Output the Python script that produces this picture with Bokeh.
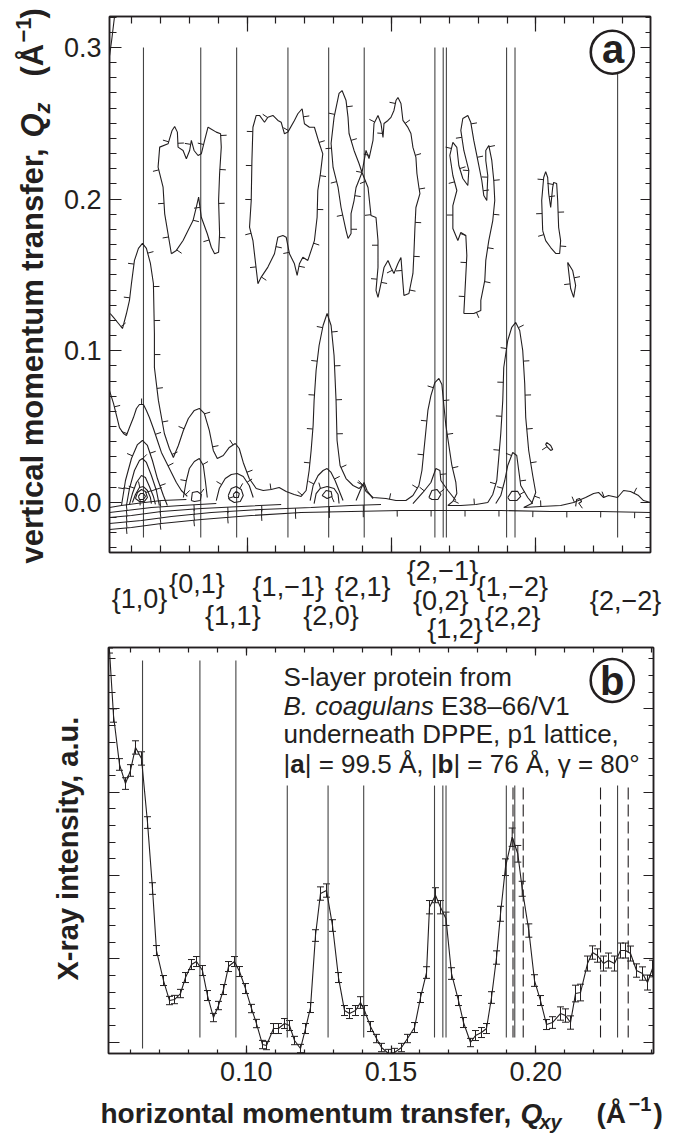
import math
from bokeh.plotting import figure
from bokeh.models import (ColumnDataSource, Range1d, FixedTicker, LinearAxis, Label, LabelSet,
                          Whisker, TeeHead, NumeralTickFormatter)
from bokeh.layouts import column, row
from bokeh.embed import file_html
from bokeh.resources import INLINE
from bokeh.core.properties import value

FONT = "Liberation Sans"
INK = "#231f20"
LINE = "#444444"

# ----------------------------------------------------------------- data
miller_labels = ["{1,0}", "{0,1}", "{1,1}", "{1,\u22121}", "{2,0}", "{2,1}",
                 "{2,\u22121}", "{0,2}", "{1,2}", "{1,\u22122}", "{2,2}", "{2,\u22122}"]
miller_q = [0.06412, 0.08395, 0.09638, 0.11414, 0.12824, 0.14055,
            0.16502, 0.16790, 0.16900, 0.18984, 0.19276, 0.22828]
dashed_q = [0.19215, 0.19568, 0.22239, 0.23196]

qxy = [0.05270, 0.05409, 0.05616, 0.05823, 0.05996, 0.06169, 0.06376, 0.06584, 0.06756, 0.06894,
       0.07137, 0.07344, 0.07517, 0.07724, 0.07897, 0.08104, 0.08277, 0.08484, 0.08657, 0.08864,
       0.09037, 0.09210, 0.09383, 0.09590, 0.09763, 0.09970, 0.10178, 0.10350, 0.10558, 0.10696,
       0.10938, 0.11110, 0.11318, 0.11491, 0.11664, 0.11871, 0.12044, 0.12217, 0.12389, 0.12562,
       0.12770, 0.12977, 0.13184, 0.13392, 0.13564, 0.13772, 0.13945, 0.14083, 0.14290, 0.14497,
       0.14670, 0.14912, 0.15120, 0.15361, 0.15569, 0.15811, 0.16018, 0.16226, 0.16329, 0.16536,
       0.16709, 0.16899, 0.17090, 0.17331, 0.17504, 0.17746, 0.17919, 0.18126, 0.18299, 0.18472,
       0.18645, 0.18783, 0.18955, 0.19187, 0.19381, 0.19533, 0.19761, 0.19958, 0.20165, 0.20372,
       0.20580, 0.20856, 0.21029, 0.21202, 0.21375, 0.21548, 0.21789, 0.21962, 0.22135, 0.22342,
       0.22515, 0.22722, 0.22930, 0.23103, 0.23276, 0.23483, 0.23690, 0.23863, 0.24036]
intensity = [5.700, 4.920, 4.333, 4.104, 4.261, 4.537, 4.405, 3.636, 2.844, 2.100,
             1.740, 1.500, 1.512, 1.584, 1.776, 1.932, 1.968, 1.860, 1.560, 1.296,
             1.440, 1.632, 1.908, 1.968, 1.848, 1.644, 1.404, 1.224, 0.972, 0.960,
             1.164, 1.164, 1.224, 1.200, 1.020, 0.924, 1.164, 1.416, 2.280, 2.784,
             2.820, 2.400, 1.776, 1.380, 1.344, 1.380, 1.476, 1.380, 1.188, 1.044,
             0.936, 0.864, 0.876, 0.936, 1.044, 1.176, 1.536, 1.836, 2.620, 2.764,
             2.620, 2.481, 1.824, 1.500, 1.236, 0.996, 1.080, 1.116, 1.164, 1.536,
             2.016, 2.541, 3.100, 3.460, 3.261, 2.841, 2.340, 1.740, 1.500, 1.212,
             1.236, 1.344, 1.320, 1.236, 1.584, 1.596, 1.944, 2.076, 2.040, 1.944,
             1.980, 1.944, 2.100, 2.100, 2.064, 1.860, 1.824, 1.716, 1.884]
intensity_err = [0.03, 0.08, 0.07, 0.07, 0.07, 0.08, 0.08, 0.07, 0.07, 0.06,
                 0.06, 0.05, 0.05, 0.05, 0.06, 0.06, 0.06, 0.06, 0.06, 0.05,
                 0.05, 0.06, 0.06, 0.06, 0.06, 0.06, 0.05, 0.05, 0.05, 0.05,
                 0.06, 0.06, 0.06, 0.06, 0.05, 0.05, 0.06, 0.06, 0.07, 0.08,
                 0.08, 0.07, 0.06, 0.06, 0.06, 0.06, 0.07, 0.06, 0.06, 0.05,
                 0.05, 0.05, 0.05, 0.05, 0.05, 0.06, 0.06, 0.07, 0.08, 0.09,
                 0.08, 0.08, 0.07, 0.06, 0.06, 0.05, 0.06, 0.06, 0.06, 0.07,
                 0.08, 0.09, 0.10, 0.11, 0.10, 0.09, 0.08, 0.07, 0.06, 0.06,
                 0.07, 0.08, 0.08, 0.08, 0.10, 0.10, 0.09, 0.08, 0.08, 0.09,
                 0.09, 0.09, 0.09, 0.09, 0.09, 0.08, 0.08, 0.09, 0.10]

# panel a contour traces: (Qxy, Qz) in 1/Å
contour_qxy = [
    [0.0524, 0.0531, 0.0541],
    [0.07378, 0.07147, 0.07091, 0.06918, 0.06974, 0.07264, 0.07403, 0.07492, 0.07586, 0.07610, 0.07783, 0.07897, 0.08011, 0.08070, 0.08163, 0.08301, 0.08415, 0.08529, 0.08647, 0.08737, 0.08933, 0.09082, 0.09106, 0.09048, 0.09013, 0.09048, 0.09013, 0.08875, 0.08761, 0.08622, 0.08415, 0.08322, 0.08242, 0.08128, 0.07955, 0.07783, 0.07551, 0.07378],
    [0.10375, 0.10202, 0.10084, 0.10143, 0.10167, 0.10202, 0.10316, 0.10430, 0.10603, 0.10720, 0.10893, 0.11066, 0.11180, 0.11294, 0.11411, 0.11639, 0.11757, 0.11906, 0.11985, 0.12158, 0.12331, 0.12504, 0.12621, 0.12538, 0.12448, 0.12424, 0.12331, 0.12103, 0.11930, 0.11812, 0.11733, 0.11639, 0.11467, 0.11353, 0.11239, 0.11066, 0.10948, 0.10720, 0.10489, 0.10375],
    [0.13288, 0.13426, 0.13495, 0.13530, 0.13703, 0.13875, 0.13979, 0.14117, 0.14221, 0.14359, 0.14394, 0.14532, 0.14636, 0.14705, 0.14740, 0.14878, 0.14981, 0.15085, 0.15154, 0.15223, 0.15327, 0.15396, 0.15569, 0.15672, 0.15742, 0.15845, 0.15880, 0.15949, 0.15984, 0.15845, 0.15811, 0.15776, 0.15742, 0.15603, 0.15430, 0.15396, 0.15327, 0.15223, 0.15085, 0.14981, 0.14878, 0.14740, 0.14636, 0.14532, 0.14463, 0.14532, 0.14532, 0.14463, 0.14290, 0.14187, 0.13979, 0.13772, 0.13703, 0.13599, 0.13599, 0.13495, 0.13426, 0.13253, 0.13150, 0.12977, 0.12908, 0.13011, 0.13184, 0.13288],
    [0.17504, 0.17608, 0.17573, 0.17400, 0.17297, 0.17124, 0.17124, 0.17262, 0.17124, 0.17020, 0.17124, 0.17262, 0.17331, 0.17469, 0.17642, 0.17677, 0.17504, 0.17400, 0.17469, 0.17642, 0.17746, 0.17849, 0.17988, 0.18126, 0.18195, 0.18299, 0.18333, 0.18264, 0.18264, 0.18368, 0.18472, 0.18541, 0.18575, 0.18506, 0.18368, 0.18264, 0.18230, 0.18092, 0.18092, 0.17849, 0.17504],
    [0.20234, 0.20200, 0.20269, 0.20338, 0.20407, 0.20442, 0.20511, 0.20580, 0.20614, 0.20718, 0.20753, 0.20787, 0.20856, 0.20822, 0.20684, 0.20511, 0.20338, 0.20234],
    [0.21098, 0.21271, 0.21375, 0.21306, 0.21202, 0.21098],
    [0.20372, 0.20511, 0.20580, 0.20511, 0.20407, 0.20338, 0.20372],
    [0.05260, 0.05374, 0.05547, 0.05685, 0.05823, 0.05927, 0.05996, 0.06100, 0.06238, 0.06376, 0.06514, 0.06653, 0.06756, 0.06791, 0.06791, 0.06929, 0.07136, 0.07309, 0.07447, 0.07620, 0.07793, 0.07966, 0.08173, 0.08346, 0.08519, 0.08691, 0.08830, 0.08968, 0.09175, 0.09383, 0.09590, 0.09728, 0.09866, 0.10074, 0.10316, 0.10558, 0.10834, 0.11110, 0.11353, 0.11629, 0.11871, 0.12044, 0.12148, 0.12217, 0.12286, 0.12320, 0.12389, 0.12493, 0.12631, 0.12770, 0.12908, 0.13011, 0.13080, 0.13115, 0.13219, 0.13426, 0.13668, 0.13875, 0.14014, 0.14117, 0.14359, 0.14808, 0.15154, 0.15499, 0.15742, 0.15949, 0.16053, 0.16122, 0.16191, 0.16260, 0.16364, 0.16502, 0.16640, 0.16744, 0.16813, 0.16882, 0.16986, 0.17090, 0.17228, 0.17262, 0.17124, 0.16951, 0.17400, 0.17919, 0.18333, 0.18506, 0.18645, 0.18714, 0.18783, 0.18852, 0.18886, 0.19024, 0.19162, 0.19301, 0.19439, 0.19543, 0.19612, 0.19647, 0.19750, 0.19889, 0.19993, 0.19854, 0.19578, 0.20165, 0.20856, 0.21306, 0.21720, 0.21997, 0.22169, 0.22342, 0.22515, 0.22826, 0.23034, 0.23276, 0.23552, 0.23725, 0.23967],
    [0.05236, 0.05996, 0.07033, 0.08415, 0.10143, 0.11871, 0.13599, 0.15327, 0.17055, 0.18783, 0.20511, 0.22239, 0.23967],
    [0.05236, 0.06342, 0.07378, 0.08761, 0.10489, 0.12217, 0.13599, 0.14636],
    [0.05236, 0.05996, 0.07033, 0.08415, 0.09798, 0.11180],
    [0.05236, 0.05823, 0.06687, 0.07724, 0.08933],
    [0.05236, 0.05650, 0.06169, 0.07033, 0.07897],
    [0.05236, 0.05374, 0.05477, 0.05581, 0.05720, 0.05823, 0.05927, 0.06065, 0.06169, 0.06272, 0.06411, 0.06514, 0.06618, 0.06756, 0.06895, 0.07033, 0.07206, 0.07378, 0.07551, 0.07724, 0.07931],
    [0.07793, 0.07897, 0.08000, 0.08173, 0.08346, 0.08484, 0.08553, 0.08622],
    [0.08070, 0.08104, 0.08277, 0.08415, 0.08380, 0.08173, 0.08070],
    [0.09348, 0.09452, 0.09625, 0.09798, 0.09867, 0.09763, 0.09555, 0.09383, 0.09348],
    [0.09521, 0.09625, 0.09729, 0.09694, 0.09555, 0.09521],
    [0.08933, 0.09037, 0.09244, 0.09452, 0.09659, 0.09867, 0.10074, 0.10212],
    [0.05651, 0.05789, 0.05996, 0.06204, 0.06376, 0.06549, 0.06722, 0.06895, 0.07102, 0.07240],
    [0.05823, 0.05927, 0.06100, 0.06273, 0.06376, 0.06514, 0.06687, 0.06860, 0.06964],
    [0.05927, 0.06030, 0.06169, 0.06342, 0.06480, 0.06618, 0.06756, 0.06826],
    [0.06030, 0.06134, 0.06273, 0.06411, 0.06549, 0.06653, 0.06687],
    [0.06134, 0.06204, 0.06342, 0.06480, 0.06549, 0.06445, 0.06273, 0.06134],
    [0.06238, 0.06307, 0.06411, 0.06480, 0.06411, 0.06273, 0.06238],
    [0.12320, 0.12389, 0.12527, 0.12770, 0.13011, 0.13150, 0.13184],
    [0.12597, 0.12735, 0.12908, 0.12942, 0.12770, 0.12597],
    [0.12183, 0.12286, 0.12459, 0.12631, 0.12770, 0.12908, 0.13046, 0.13184, 0.13322],
    [0.13772, 0.13945, 0.14048, 0.14152, 0.14359],
    [0.15742, 0.16087, 0.16364, 0.16536, 0.16675, 0.16709, 0.16951, 0.17228],
    [0.16295, 0.16398, 0.16571, 0.16709, 0.16605, 0.16398, 0.16295],
    [0.18610, 0.18783, 0.18921, 0.19025, 0.19197, 0.19336, 0.19405, 0.19474, 0.19716, 0.19889],
    [0.19025, 0.19163, 0.19370, 0.19474, 0.19336, 0.19094, 0.19025],
    [0.21375, 0.21409, 0.21513, 0.21582, 0.21479],
]
contour_qz = [
    [0.2947, 0.3046, 0.3204],
    [0.1640, 0.1903, 0.2079, 0.2211, 0.2343, 0.2365, 0.2453, 0.2479, 0.2442, 0.2343, 0.2321, 0.2266, 0.2321, 0.2387, 0.2321, 0.2288, 0.2299, 0.2387, 0.2475, 0.2464, 0.2442, 0.2431, 0.2343, 0.2167, 0.1991, 0.1772, 0.1650, 0.1640, 0.1683, 0.1772, 0.1881, 0.2013, 0.1947, 0.1859, 0.1793, 0.1727, 0.1662, 0.1640],
    [0.1442, 0.1727, 0.1815, 0.1991, 0.2255, 0.2474, 0.2552, 0.2552, 0.2507, 0.2540, 0.2552, 0.2519, 0.2507, 0.2431, 0.2442, 0.2519, 0.2563, 0.2596, 0.2497, 0.2474, 0.2474, 0.2365, 0.2299, 0.2167, 0.2057, 0.1881, 0.1727, 0.1596, 0.1617, 0.1574, 0.1497, 0.1574, 0.1640, 0.1749, 0.1760, 0.1749, 0.1640, 0.1552, 0.1486, 0.1442],
    [0.2716, 0.2650, 0.2539, 0.2433, 0.2321, 0.2235, 0.2176, 0.2321, 0.2268, 0.2387, 0.2499, 0.2552, 0.2499, 0.2407, 0.2499, 0.2519, 0.2539, 0.2585, 0.2650, 0.2670, 0.2631, 0.2519, 0.2473, 0.2433, 0.2341, 0.2275, 0.2169, 0.2077, 0.2037, 0.1945, 0.1813, 0.1642, 0.1510, 0.1378, 0.1365, 0.1444, 0.1615, 0.1576, 0.1510, 0.1549, 0.1596, 0.1549, 0.1444, 0.1352, 0.1398, 0.1549, 0.1727, 0.1879, 0.1892, 0.2077, 0.2176, 0.2077, 0.1991, 0.1905, 0.1774, 0.1741, 0.1793, 0.1945, 0.2077, 0.2209, 0.2367, 0.2539, 0.2697, 0.2716],
    [0.1246, 0.1629, 0.1760, 0.1780, 0.1727, 0.1807, 0.1958, 0.2057, 0.2156, 0.2288, 0.2374, 0.2341, 0.2222, 0.2136, 0.2090, 0.2189, 0.2321, 0.2453, 0.2532, 0.2552, 0.2505, 0.2387, 0.2255, 0.2123, 0.2024, 0.1991, 0.2156, 0.2255, 0.2321, 0.2354, 0.2255, 0.2123, 0.1991, 0.1859, 0.1727, 0.1596, 0.1464, 0.1332, 0.1266, 0.1246, 0.1246],
    [0.1793, 0.1991, 0.2143, 0.2182, 0.2143, 0.2037, 0.1945, 0.2077, 0.2110, 0.2103, 0.1991, 0.1813, 0.1727, 0.1642, 0.1642, 0.1681, 0.1727, 0.1793],
    [0.1583, 0.1530, 0.1431, 0.1352, 0.1411, 0.1583],
    [0.0396, 0.0376, 0.0350, 0.0343, 0.0363, 0.0383, 0.0396],
    [0.1246, 0.1220, 0.1180, 0.1147, 0.1246, 0.1332, 0.1444, 0.1596, 0.1675, 0.1708, 0.1675, 0.1576, 0.1444, 0.1114, 0.0890, 0.0673, 0.0455, 0.0356, 0.0297, 0.0376, 0.0475, 0.0554, 0.0607, 0.0620, 0.0587, 0.0475, 0.0343, 0.0290, 0.0310, 0.0363, 0.0389, 0.0356, 0.0264, 0.0158, 0.0092, 0.0079, 0.0086, 0.0099, 0.0073, 0.0053, 0.0040, 0.0079, 0.0211, 0.0343, 0.0508, 0.0673, 0.0870, 0.1035, 0.1167, 0.1246, 0.1167, 0.0969, 0.0673, 0.0409, 0.0244, 0.0158, 0.0112, 0.0092, 0.0119, 0.0073, 0.0033, 0.0026, 0.0013, 0.0013, 0.0046, 0.0112, 0.0211, 0.0343, 0.0475, 0.0607, 0.0705, 0.0791, 0.0818, 0.0778, 0.0640, 0.0508, 0.0376, 0.0244, 0.0132, 0.0059, 0.0007, -0.0020, -0.0020, -0.0013, 0.0000, 0.0053, 0.0145, 0.0297, 0.0455, 0.0673, 0.0890, 0.1068, 0.1154, 0.1187, 0.1134, 0.1002, 0.0785, 0.0560, 0.0343, 0.0178, 0.0066, -0.0007, -0.0033, -0.0026, -0.0020, 0.0000, 0.0033, 0.0059, 0.0066, 0.0033, 0.0046, 0.0033, 0.0079, 0.0073, 0.0046, 0.0013, 0.0000],
    [-0.0178, -0.0165, -0.0139, -0.0112, -0.0086, -0.0066, -0.0059, -0.0053, -0.0053, -0.0053, -0.0059, -0.0059, -0.0066],
    [-0.0138, -0.0119, -0.0092, -0.0066, -0.0046, -0.0033, -0.0020, -0.0013],
    [-0.0099, -0.0086, -0.0059, -0.0040, -0.0026, -0.0013],
    [-0.0066, -0.0053, -0.0033, -0.0020, -0.0007],
    [-0.0033, -0.0020, -0.0007, 0.0013, 0.0020],
    [0.0738, 0.0653, 0.0574, 0.0494, 0.0455, 0.0442, 0.0494, 0.0560, 0.0620, 0.0646, 0.0646, 0.0607, 0.0560, 0.0488, 0.0409, 0.0330, 0.0264, 0.0198, 0.0132, 0.0079, 0.0040],
    [0.0033, 0.0145, 0.0224, 0.0270, 0.0290, 0.0244, 0.0145, 0.0033],
    [0.0013, 0.0066, 0.0073, 0.0053, 0.0013, 0.0007, 0.0013],
    [0.0046, 0.0092, 0.0105, 0.0086, 0.0046, 0.0007, 0.0000, 0.0020, 0.0046],
    [0.0053, 0.0073, 0.0059, 0.0033, 0.0033, 0.0053],
    [0.0013, 0.0092, 0.0158, 0.0185, 0.0191, 0.0171, 0.0112, 0.0033],
    [-0.0020, 0.0145, 0.0290, 0.0382, 0.0409, 0.0376, 0.0277, 0.0158, 0.0046, -0.0020],
    [-0.0020, 0.0092, 0.0211, 0.0277, 0.0290, 0.0264, 0.0178, 0.0079, -0.0020],
    [-0.0013, 0.0059, 0.0132, 0.0178, 0.0165, 0.0105, 0.0040, -0.0013],
    [0.0000, 0.0053, 0.0099, 0.0105, 0.0079, 0.0033, -0.0007],
    [0.0026, 0.0066, 0.0086, 0.0073, 0.0033, 0.0007, 0.0007, 0.0026],
    [0.0040, 0.0059, 0.0059, 0.0040, 0.0020, 0.0020, 0.0040],
    [-0.0007, 0.0059, 0.0092, 0.0105, 0.0092, 0.0053, -0.0007],
    [0.0046, 0.0079, 0.0073, 0.0040, 0.0026, 0.0046],
    [0.0013, 0.0112, 0.0178, 0.0211, 0.0224, 0.0198, 0.0145, 0.0079, 0.0013],
    [0.0013, 0.0092, 0.0132, 0.0079, 0.0026],
    [-0.0007, 0.0066, 0.0132, 0.0224, 0.0211, 0.0145, 0.0079, 0.0013],
    [0.0033, 0.0079, 0.0086, 0.0053, 0.0020, 0.0020, 0.0033],
    [-0.0007, 0.0046, 0.0145, 0.0244, 0.0330, 0.0310, 0.0211, 0.0112, 0.0033, -0.0007],
    [0.0033, 0.0073, 0.0073, 0.0040, 0.0013, 0.0013, 0.0033],
    [-0.0026, 0.0020, 0.0026, 0.0007, -0.0007],
]
# side of the downhill hachures for open traces (+1 left of travel, -1 right, 0 none)
open_side = {0: 0, 8: 1, 9: -1, 10: -1, 11: -1, 12: -1, 13: -1}

# ----------------------------------------------------------------- layout (page px)
PAGE_W = 693
FL = 108
A_TOP, A_BOT, A_R = 16, 552, 650
B_TOP, B_BOT, B_R = 647, 1053, 653
TA_W, TB_W = 60, 85
A_H, M_H = 554, 91
B_Y0, B_H = 645, 446
X_Y0, X_H = 1091, 47
XA = (0.05236, 0.23967)
XB = (0.05236, 0.24070)
YA = (-0.03297, 0.32043)
YB = (0.8644, 5.7366)
MID = 0.35

REG = {' ': 278, '(': 333, ')': 333, ',': 278, '-': 333, '.': 278, '/': 278, '=': 584, '|': 260,
       '\u2013': 556, '\u2212': 584, '\u00b0': 400, '\u03b3': 500, '\u00c5': 667, 'B': 667, 'D': 722,
       'E': 667, 'P': 667, 'S': 667, 'V': 667, 'a': 556, 'b': 556, 'c': 500, 'd': 556, 'e': 556,
       'f': 278, 'g': 556, 'h': 556, 'i': 222, 'l': 222, 'm': 833, 'n': 556, 'o': 556, 'p': 556,
       'r': 333, 's': 500, 't': 278, 'u': 556, 'v': 500, 'y': 500}
BOLD = {' ': 278, 'a': 556, 'b': 611}


def text_w(s, size, bold=False):
    tab = BOLD if bold else REG
    return sum(tab.get(c, REG.get(c, 556)) for c in s) * size / 1000.0


def style_axis(ax, maj, mnr, labels=False, fmt=None, standoff=8, size="27px"):
    ax.axis_line_color = INK
    ax.axis_line_width = 1.5
    ax.major_tick_line_color = INK
    ax.minor_tick_line_color = INK
    ax.major_tick_line_width = 1.2
    ax.minor_tick_line_width = 1.2
    ax.major_tick_in = maj
    ax.major_tick_out = 0
    ax.minor_tick_in = mnr
    ax.minor_tick_out = 0
    ax.axis_label = None
    if labels:
        ax.major_label_text_font = FONT
        ax.major_label_text_font_size = size
        ax.major_label_text_color = INK
        ax.major_label_standoff = standoff
        if fmt:
            ax.formatter = NumeralTickFormatter(format=fmt)
    else:
        ax.major_label_text_color = None
        ax.major_label_text_font_size = "0px"
        ax.major_label_standoff = 0


def put(p, text, sx, sy, size, style="normal", angle=0.0, align="left"):
    p.add_layout(Label(x=sx, y=sy, x_units="screen", y_units="screen", text=text, angle=angle,
                       text_font=FONT, text_font_size=f"{size}px", text_font_style=style,
                       text_color=INK, text_align=align, text_baseline="middle"))


def strip(w, h, x_range=None):
    f = figure(width=w, height=h, x_range=x_range or Range1d(0, w), y_range=Range1d(0, h),
               min_border_left=0, min_border_right=0, min_border_top=0, min_border_bottom=0,
               toolbar_location=None, output_backend="svg", x_axis_type=None, y_axis_type=None,
               frame_align=False)
    f.outline_line_color = None
    f.background_fill_color = "white"
    f.border_fill_color = "white"
    return f


# downhill hachures drawn along the traced contours (screen-space length)
PX_X = (A_R - FL) / (XA[1] - XA[0])
PX_Y = (A_BOT - A_TOP) / (YA[1] - YA[0])


def hachures(xs, ys, side, step=34.0, length=6.0):
    X = [x * PX_X for x in xs]
    Y = [y * PX_Y for y in ys]
    out = []
    seg = [math.hypot(X[i + 1] - X[i], Y[i + 1] - Y[i]) for i in range(len(X) - 1)]
    total = sum(seg)
    s = step * 0.5
    acc = 0.0
    i = 0
    while s < total and i < len(seg):
        while i < len(seg) and acc + seg[i] < s:
            acc += seg[i]
            i += 1
        if i >= len(seg):
            break
        if seg[i] > 0:
            t = (s - acc) / seg[i]
            px = X[i] + t * (X[i + 1] - X[i])
            py = Y[i] + t * (Y[i + 1] - Y[i])
            dx = (X[i + 1] - X[i]) / seg[i]
            dy = (Y[i + 1] - Y[i]) / seg[i]
            nx, ny = -dy * side, dx * side
            out.append((px / PX_X, py / PX_Y, (px + nx * length) / PX_X, (py + ny * length) / PX_Y))
        s += step
    return out


hx0, hy0, hx1, hy1 = [], [], [], []
for k, (xs, ys) in enumerate(zip(contour_qxy, contour_qz)):
    closed = xs[0] == xs[-1] and ys[0] == ys[-1]
    if closed:
        area = sum(xs[j] * PX_X * ys[j + 1] * PX_Y - xs[j + 1] * PX_X * ys[j] * PX_Y
                   for j in range(len(xs) - 1))
        side = -1 if area > 0 else 1
    else:
        side = open_side.get(k, 1)
    if side == 0:
        continue
    for a, b, c, d in hachures(xs, ys, side):
        hx0.append(a); hy0.append(b); hx1.append(c); hy1.append(d)

x_major = [0.05, 0.10, 0.15, 0.20, 0.25]
x_minor = [round(0.05 + 0.01 * i, 2) for i in range(21)]
ang = math.pi / 2

# ================================================================ panel a
pa = figure(width=PAGE_W - TA_W, height=A_H, x_range=Range1d(*XA), y_range=Range1d(*YA),
            output_backend="svg", toolbar_location=None, frame_align=False,
            min_border_left=FL - TA_W, min_border_right=PAGE_W - A_R,
            min_border_top=A_TOP, min_border_bottom=A_H - A_BOT)
pa.background_fill_color = "white"
pa.border_fill_color = "white"
pa.outline_line_color = INK
pa.outline_line_width = 1.5
pa.xgrid.visible = False
pa.ygrid.visible = False

ya_major = [-0.1, 0.0, 0.1, 0.2, 0.3]
ya_minor = [round(-0.03 + 0.01 * i, 2) for i in range(36)]
pa.xaxis[0].ticker = FixedTicker(ticks=x_major, minor_ticks=x_minor)
style_axis(pa.xaxis[0], 15, 7)
pa.yaxis[0].ticker = FixedTicker(ticks=ya_major, minor_ticks=ya_minor)
style_axis(pa.yaxis[0], 12, 7, labels=True, fmt="0.0", standoff=8)
ax_top = LinearAxis(ticker=FixedTicker(ticks=x_major, minor_ticks=x_minor))
style_axis(ax_top, 15, 7)
pa.add_layout(ax_top, "above")
ax_right = LinearAxis(ticker=FixedTicker(ticks=ya_major, minor_ticks=ya_minor))
style_axis(ax_right, 10, 5)
pa.add_layout(ax_right, "right")

line_top_a = [0.300] * 11 + [0.2829]
src_va = ColumnDataSource(dict(q=miller_q, y0=[-0.0231] * len(miller_q), y1=line_top_a))
pa.segment(x0="q", x1="q", y0="y0", y1="y1", source=src_va, line_color=LINE, line_width=1.1)
pa.multi_line(xs=contour_qxy, ys=contour_qz, line_color=INK, line_width=1.1)
pa.segment(x0=hx0, y0=hy0, x1=hx1, y1=hy1, line_color=INK, line_width=1.0)


def xa_of(px):
    return XA[0] + (px - FL) / (A_R - FL) * (XA[1] - XA[0])


def ya_of(py):
    return YA[1] - (py - A_TOP) / (A_BOT - A_TOP) * (YA[1] - YA[0])


pa.scatter([xa_of(611.7)], [ya_of(51.7)], marker="circle", size=43, fill_color=None,
           line_color=INK, line_width=2.6)
put(pa, "a", 611.7 - FL, A_BOT - 48, 40, "bold", align="center")

# ---- title strip of panel a
ta = strip(TA_W, A_H + M_H)
TA_B = A_H + M_H
for txt, st, sz, start, base in [("vertical momentum transfer, ", "bold", 31, 563, 43),
                                 ("Q", "bold italic", 31, 137, 43),
                                 ("z", "bold italic", 22, 113, 50),
                                 ("(\u00c5", "bold", 31, 76, 43),
                                 ("\u22121", "bold", 22, 42, 31),
                                 (")", "bold", 31, 18, 43)]:
    put(ta, txt, base - MID * sz, TA_B - start, sz, st, angle=ang)

# ---- Miller-index strip
mil = strip(PAGE_W - TA_W, M_H, x_range=Range1d(xa_of(TA_W), xa_of(PAGE_W)))
row_py = [600, 585, 617, 588, 617, 588, 572, 602, 630, 588, 618, 602]
row_dx = [-3, -3, -3, 1, 3, -1, 8, -2, 9, 6, -2, 8]
src_m = ColumnDataSource(dict(q=miller_q, t=miller_labels,
                              sy=[(A_H + M_H) - (v - 2) for v in row_py], dx=row_dx))
mil.add_layout(LabelSet(x="q", y="sy", text="t", x_units="data", y_units="screen", x_offset="dx",
                        source=src_m, text_align="center", text_baseline="middle",
                        text_font=value(FONT), text_font_size=value("27px"), text_color=INK))

# ================================================================ panel b
pb = figure(width=PAGE_W - TB_W, height=B_H, x_range=Range1d(*XB), y_range=Range1d(*YB),
            output_backend="svg", toolbar_location=None, frame_align=False,
            min_border_left=FL - TB_W, min_border_right=PAGE_W - B_R,
            min_border_top=B_TOP - B_Y0, min_border_bottom=(B_Y0 + B_H) - B_BOT)
pb.background_fill_color = "white"
pb.border_fill_color = "white"
pb.outline_line_color = INK
pb.outline_line_width = 1.5
pb.xgrid.visible = False
pb.ygrid.visible = False

yb_major = [1, 2, 3, 4, 5]
yb_minor = [round(0.8 + 0.2 * i, 1) for i in range(26)]
pb.xaxis[0].ticker = FixedTicker(ticks=x_major, minor_ticks=x_minor)
style_axis(pb.xaxis[0], 8, 4, labels=True, fmt="0.00", standoff=8)
pb.yaxis[0].ticker = FixedTicker(ticks=yb_major, minor_ticks=yb_minor)
style_axis(pb.yaxis[0], 11, 7)
bt = LinearAxis(ticker=FixedTicker(ticks=x_major, minor_ticks=x_minor))
style_axis(bt, 8, 5)
pb.add_layout(bt, "above")
br = LinearAxis(ticker=FixedTicker(ticks=yb_major, minor_ticks=yb_minor))
style_axis(br, 10, 5)
pb.add_layout(br, "right")

top_b = [5.58, 5.58, 5.58] + [4.08] * 9
bot_b = [0.924] + [1.056] * 11
src_vb = ColumnDataSource(dict(q=miller_q, y0=bot_b, y1=top_b))
pb.segment(x0="q", x1="q", y0="y0", y1="y1", source=src_vb, line_color=LINE, line_width=1.1)
src_db = ColumnDataSource(dict(q=dashed_q, y0=[1.056] * 4, y1=[4.08] * 4))
pb.segment(x0="q", x1="q", y0="y0", y1="y1", source=src_db, line_color=INK, line_width=1.1,
           line_dash="12 5")

src_i = ColumnDataSource(dict(q=qxy, v=intensity,
                              lo=[a - e for a, e in zip(intensity, intensity_err)],
                              hi=[a + e for a, e in zip(intensity, intensity_err)]))
pb.line("q", "v", source=src_i, line_color=INK, line_width=1.1)
pb.add_layout(Whisker(source=src_i, base="q", lower="lo", upper="hi", dimension="height",
                      line_color=INK, line_width=1,
                      lower_head=TeeHead(size=7, line_color=INK, line_width=1),
                      upper_head=TeeHead(size=7, line_color=INK, line_width=1)))


def xb_of(px):
    return XB[0] + (px - FL) / (B_R - FL) * (XB[1] - XB[0])


def yb_of(py):
    return YB[1] - (py - B_TOP) / (B_BOT - B_TOP) * (YB[1] - YB[0])


pb.scatter([xb_of(611.7)], [yb_of(680)], marker="circle", size=43, fill_color=None,
           line_color=INK, line_width=2.6)
put(pb, "b", 611.7 - FL, B_BOT - 680, 40, "bold", align="center")

TX, FS = 283, 26


def cap(text, px, base, style="normal"):
    put(pb, text, px - FL, B_BOT - (base - MID * FS), FS, style)


cap("S-layer protein from", TX, 686)
cap("B. coagulans", TX, 715, "italic")
cap("E38\u201366/V1", TX + text_w("B. coagulans ", FS), 715)
cap("underneath DPPE, p1 lattice,", TX, 743)
xx = TX
for t, st in [("|", "normal"), ("a", "bold"), ("| = 99.5 \u00c5, |", "normal"), ("b", "bold"),
              ("| = 76 \u00c5, \u03b3 = 80\u00b0", "normal")]:
    cap(t, xx, 773, st)
    xx += text_w(t, FS, bold=(st == "bold"))

tb = strip(TB_W, B_H)
put(tb, "X-ray intensity, a.u.", 78 - MID * 29, (B_Y0 + B_H) - 980, 29, "bold", angle=ang)

xt = strip(PAGE_W, X_H)
XT_B = X_Y0 + X_H
for txt, st, sz, px, base in [("horizontal momentum transfer, ", "bold", 28, 100, 1123),
                              ("Q", "bold italic", 28, 520, 1123),
                              ("xy", "bold italic", 20, 539, 1128),
                              ("(\u00c5", "bold", 28, 596, 1123),
                              ("\u22121", "bold", 20, 628, 1110),
                              (")", "bold", 28, 653, 1123)]:
    put(xt, txt, px, XT_B - (base - MID * sz), sz, st)

layout = column(row(ta, column(pa, mil)), row(tb, pb), xt)
open("out.html", "w").write(file_html(layout, INLINE))
